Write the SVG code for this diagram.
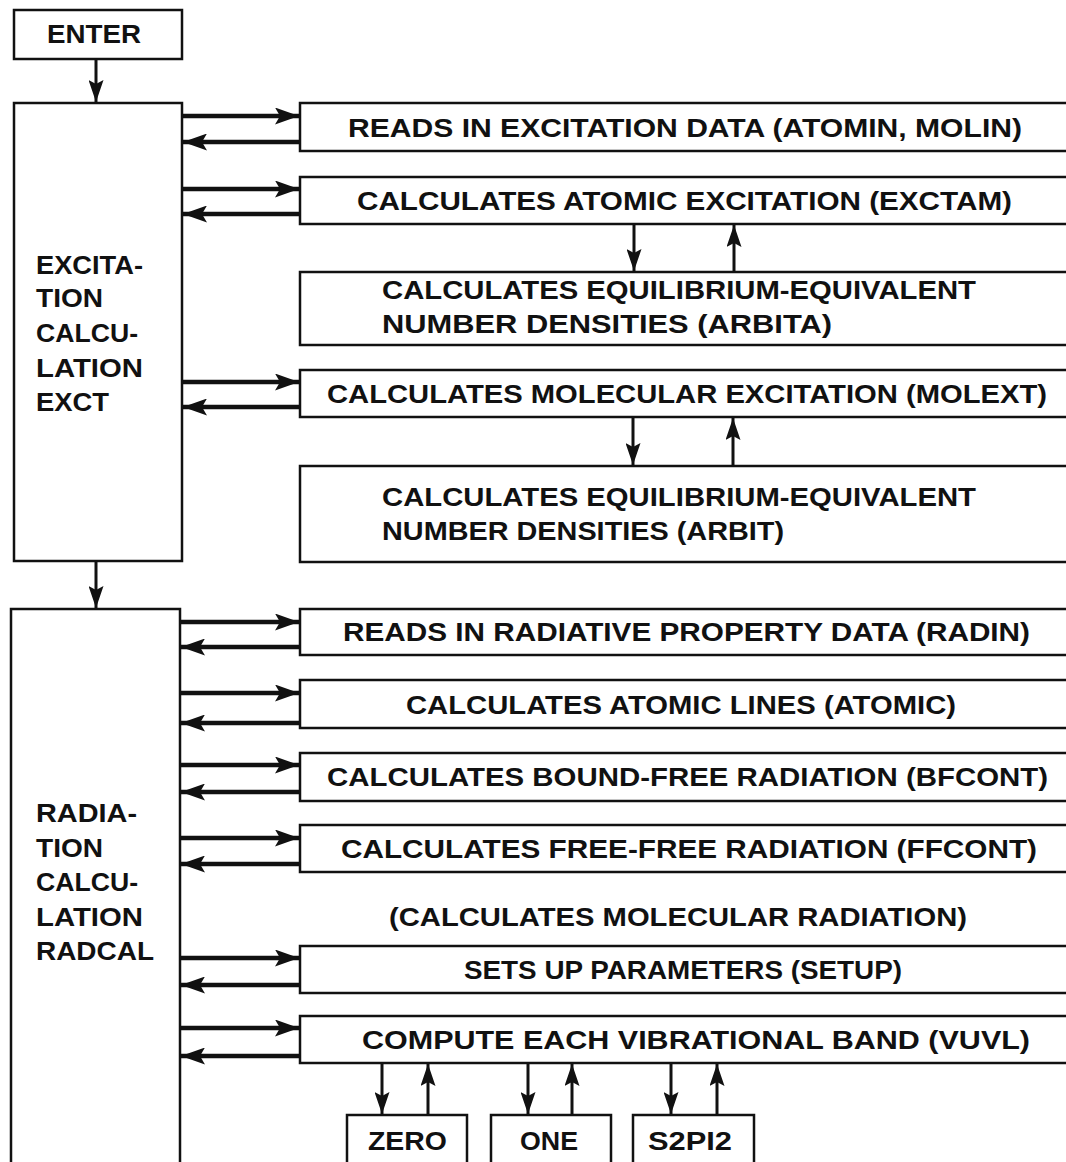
<svg xmlns="http://www.w3.org/2000/svg" width="1066" height="1162" viewBox="0 0 1066 1162">
<style>
.box{fill:#fff;stroke:#111;stroke-width:2.5}
.t{font-family:"Liberation Sans",Arial,sans-serif;font-weight:bold;font-size:26px;fill:#111}
.h{stroke:#111;stroke-width:4.5;fill:none}
.v{stroke:#111;stroke-width:3;fill:none}
</style>
<defs>
<marker id="ah" viewBox="0 0 24 17" refX="24" refY="8.5" markerWidth="24" markerHeight="17" markerUnits="userSpaceOnUse" orient="auto">
<path d="M0,0 L24,8.5 L0,17 L5,8.5 Z" fill="#111"/>
</marker>
<marker id="av" viewBox="0 0 22 15" refX="22" refY="7.5" markerWidth="22" markerHeight="15" markerUnits="userSpaceOnUse" orient="auto">
<path d="M0,0 L22,7.5 L0,15 L4,7.5 Z" fill="#111"/>
</marker>
</defs>
<rect width="1066" height="1162" fill="#fff"/>

<g id="connectors">
<line class="v" x1="96" y1="59" x2="96" y2="102" marker-end="url(#av)"/>
<line class="v" x1="96" y1="561" x2="96" y2="608" marker-end="url(#av)"/>
<line class="h" x1="182" y1="116" x2="299" y2="116" marker-end="url(#ah)"/>
<line class="h" x1="300" y1="142" x2="183" y2="142" marker-end="url(#ah)"/>
<line class="h" x1="182" y1="189" x2="299" y2="189" marker-end="url(#ah)"/>
<line class="h" x1="300" y1="214" x2="183" y2="214" marker-end="url(#ah)"/>
<line class="h" x1="182" y1="382" x2="299" y2="382" marker-end="url(#ah)"/>
<line class="h" x1="300" y1="407" x2="183" y2="407" marker-end="url(#ah)"/>
<line class="v" x1="634" y1="224" x2="634" y2="271" marker-end="url(#av)"/>
<line class="v" x1="734" y1="272" x2="734" y2="225" marker-end="url(#av)"/>
<line class="v" x1="633" y1="417" x2="633" y2="465" marker-end="url(#av)"/>
<line class="v" x1="733" y1="466" x2="733" y2="418" marker-end="url(#av)"/>
<line class="h" x1="180" y1="622" x2="299" y2="622" marker-end="url(#ah)"/>
<line class="h" x1="300" y1="647" x2="181" y2="647" marker-end="url(#ah)"/>
<line class="h" x1="180" y1="693" x2="299" y2="693" marker-end="url(#ah)"/>
<line class="h" x1="300" y1="723" x2="181" y2="723" marker-end="url(#ah)"/>
<line class="h" x1="180" y1="765" x2="299" y2="765" marker-end="url(#ah)"/>
<line class="h" x1="300" y1="792" x2="181" y2="792" marker-end="url(#ah)"/>
<line class="h" x1="180" y1="838" x2="299" y2="838" marker-end="url(#ah)"/>
<line class="h" x1="300" y1="864" x2="181" y2="864" marker-end="url(#ah)"/>
<line class="h" x1="180" y1="958" x2="299" y2="958" marker-end="url(#ah)"/>
<line class="h" x1="300" y1="985" x2="181" y2="985" marker-end="url(#ah)"/>
<line class="h" x1="180" y1="1028" x2="299" y2="1028" marker-end="url(#ah)"/>
<line class="h" x1="300" y1="1056" x2="181" y2="1056" marker-end="url(#ah)"/>
<line class="v" x1="382" y1="1063" x2="382" y2="1114" marker-end="url(#av)"/>
<line class="v" x1="428" y1="1115" x2="428" y2="1064" marker-end="url(#av)"/>
<line class="v" x1="528" y1="1063" x2="528" y2="1114" marker-end="url(#av)"/>
<line class="v" x1="572" y1="1115" x2="572" y2="1064" marker-end="url(#av)"/>
<line class="v" x1="671" y1="1063" x2="671" y2="1114" marker-end="url(#av)"/>
<line class="v" x1="717" y1="1115" x2="717" y2="1064" marker-end="url(#av)"/>
</g>

<g id="enter">
<rect class="box" x="14" y="10" width="168" height="49"/>
<text class="t" x="47" y="43" font-size="23" textLength="94" lengthAdjust="spacingAndGlyphs">ENTER</text>
</g>

<g id="exct">
<rect class="box" x="14" y="103" width="168" height="458"/>
<text class="t" x="36" y="274" textLength="107" lengthAdjust="spacingAndGlyphs">EXCITA-</text>
<text class="t" x="36" y="307" textLength="67" lengthAdjust="spacingAndGlyphs">TION</text>
<text class="t" x="36" y="342" textLength="102" lengthAdjust="spacingAndGlyphs">CALCU-</text>
<text class="t" x="36" y="377" textLength="107" lengthAdjust="spacingAndGlyphs">LATION</text>
<text class="t" x="36" y="411" textLength="73" lengthAdjust="spacingAndGlyphs">EXCT</text>
</g>

<g id="atomin">
<rect class="box" x="300" y="103" width="790" height="48"/>
<text class="t" x="348" y="137" textLength="674" lengthAdjust="spacingAndGlyphs">READS IN EXCITATION DATA (ATOMIN, MOLIN)</text>
</g>
<g id="exctam">
<rect class="box" x="300" y="177" width="790" height="47"/>
<text class="t" x="357" y="210" textLength="655" lengthAdjust="spacingAndGlyphs">CALCULATES ATOMIC EXCITATION (EXCTAM)</text>
</g>
<g id="arbita">
<rect class="box" x="300" y="272" width="790" height="73"/>
<text class="t" x="382" y="299" textLength="594" lengthAdjust="spacingAndGlyphs">CALCULATES EQUILIBRIUM-EQUIVALENT</text>
<text class="t" x="382" y="333" textLength="450" lengthAdjust="spacingAndGlyphs">NUMBER DENSITIES (ARBITA)</text>
</g>
<g id="molext">
<rect class="box" x="300" y="370" width="790" height="47"/>
<text class="t" x="327" y="403" textLength="720" lengthAdjust="spacingAndGlyphs">CALCULATES MOLECULAR EXCITATION (MOLEXT)</text>
</g>
<g id="arbit">
<rect class="box" x="300" y="466" width="790" height="96"/>
<text class="t" x="382" y="506" textLength="594" lengthAdjust="spacingAndGlyphs">CALCULATES EQUILIBRIUM-EQUIVALENT</text>
<text class="t" x="382" y="540" textLength="402" lengthAdjust="spacingAndGlyphs">NUMBER DENSITIES (ARBIT)</text>
</g>

<g id="radcal">
<rect class="box" x="11" y="609" width="169" height="570"/>
<text class="t" x="36" y="822" textLength="101" lengthAdjust="spacingAndGlyphs">RADIA-</text>
<text class="t" x="36" y="857" textLength="67" lengthAdjust="spacingAndGlyphs">TION</text>
<text class="t" x="36" y="891" textLength="102" lengthAdjust="spacingAndGlyphs">CALCU-</text>
<text class="t" x="36" y="926" textLength="107" lengthAdjust="spacingAndGlyphs">LATION</text>
<text class="t" x="36" y="960" textLength="118" lengthAdjust="spacingAndGlyphs">RADCAL</text>
</g>

<g id="radin">
<rect class="box" x="300" y="609" width="790" height="46"/>
<text class="t" x="343" y="641" textLength="687" lengthAdjust="spacingAndGlyphs">READS IN RADIATIVE PROPERTY DATA (RADIN)</text>
</g>
<g id="atomic">
<rect class="box" x="300" y="680" width="790" height="48"/>
<text class="t" x="406" y="714" textLength="550" lengthAdjust="spacingAndGlyphs">CALCULATES ATOMIC LINES (ATOMIC)</text>
</g>
<g id="bfcont">
<rect class="box" x="300" y="753" width="790" height="48"/>
<text class="t" x="327" y="786" textLength="721" lengthAdjust="spacingAndGlyphs">CALCULATES BOUND-FREE RADIATION (BFCONT)</text>
</g>
<g id="ffcont">
<rect class="box" x="300" y="825" width="790" height="47"/>
<text class="t" x="341" y="858" textLength="696" lengthAdjust="spacingAndGlyphs">CALCULATES FREE-FREE RADIATION (FFCONT)</text>
</g>
<g id="molrad">
<text class="t" x="389" y="926" textLength="578" lengthAdjust="spacingAndGlyphs">(CALCULATES MOLECULAR RADIATION)</text>
</g>
<g id="setup">
<rect class="box" x="300" y="946" width="790" height="47"/>
<text class="t" x="464" y="979" textLength="438" lengthAdjust="spacingAndGlyphs">SETS UP PARAMETERS (SETUP)</text>
</g>
<g id="vuvl">
<rect class="box" x="300" y="1016" width="790" height="47"/>
<text class="t" x="362" y="1049" textLength="668" lengthAdjust="spacingAndGlyphs">COMPUTE EACH VIBRATIONAL BAND (VUVL)</text>
</g>
<g id="zero">
<rect class="box" x="347" y="1115" width="120" height="70"/>
<text class="t" x="368" y="1150" textLength="79" lengthAdjust="spacingAndGlyphs">ZERO</text>
</g>
<g id="one">
<rect class="box" x="491" y="1115" width="120" height="70"/>
<text class="t" x="520" y="1150" textLength="58" lengthAdjust="spacingAndGlyphs">ONE</text>
</g>
<g id="s2pi2">
<rect class="box" x="633" y="1115" width="121" height="70"/>
<text class="t" x="648" y="1150" textLength="84" lengthAdjust="spacingAndGlyphs">S2PI2</text>
</g>
</svg>
